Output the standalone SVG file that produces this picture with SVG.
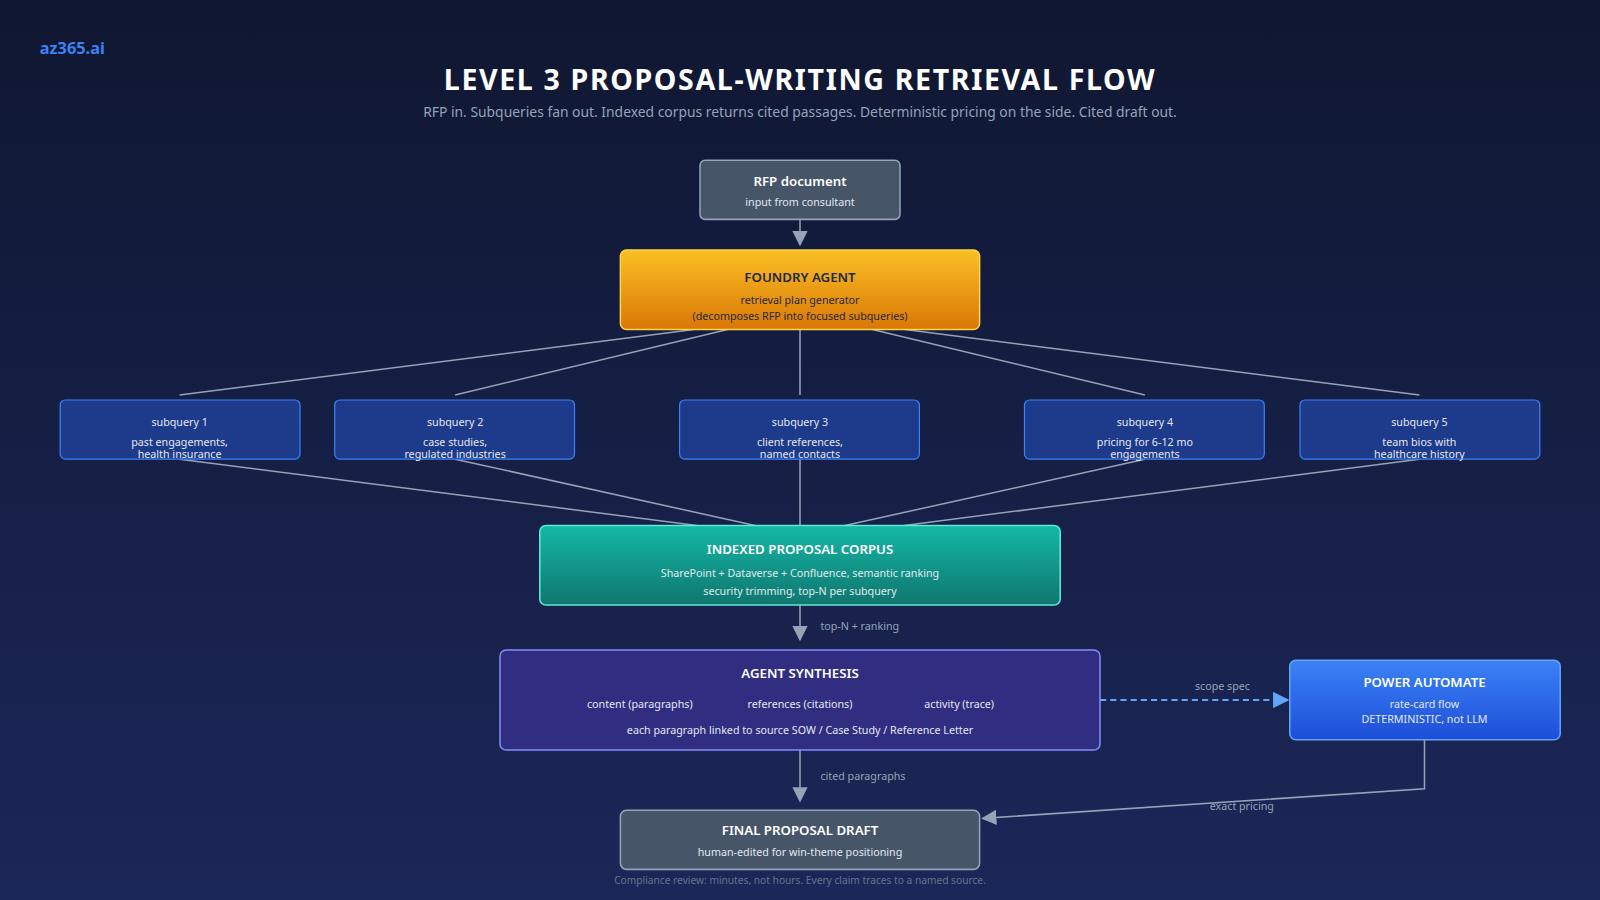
<svg xmlns="http://www.w3.org/2000/svg" width="1600" height="900" viewBox="0 0 1600 900">
<defs>
<linearGradient id="bg" x1="0" y1="0" x2="0" y2="1"><stop offset="0" stop-color="#0f1731"/><stop offset="1" stop-color="#1c2759"/></linearGradient>
<linearGradient id="gold" x1="0" y1="0" x2="0" y2="1"><stop offset="0" stop-color="#fbbf24"/><stop offset="1" stop-color="#d97706"/></linearGradient>
<linearGradient id="teal" x1="0" y1="0" x2="0" y2="1"><stop offset="0" stop-color="#14b8a6"/><stop offset="1" stop-color="#0f766e"/></linearGradient>
<linearGradient id="blue" x1="0" y1="0" x2="0" y2="1"><stop offset="0" stop-color="#3b82f6"/><stop offset="1" stop-color="#1d4ed8"/></linearGradient>
<marker id="ah" viewBox="0 0 10 10" refX="9" refY="5" markerWidth="10" markerHeight="10" orient="auto"><path d="M0,0 L10,5 L0,10 z" fill="#94a3b8"/></marker>
<marker id="ahb" viewBox="0 0 10 10" refX="9" refY="5" markerWidth="8" markerHeight="8" orient="auto"><path d="M0,0 L10,5 L0,10 z" fill="#60a5fa"/></marker>
<style>
text{font-family:"Noto Sans","Open Sans","Liberation Sans",sans-serif;text-anchor:middle;fill:#fff}
.t{font-size:13px;font-weight:600}
.s{font-size:10.5px;fill:#e2e8f0}
.lbl{font-size:10.5px;fill:#94a3b8;text-anchor:start}
.ln{stroke:#94a3b8;stroke-width:1.5;fill:none}
.sq{fill:#1e3a8a;stroke:#3b82f6;stroke-width:1.2}
</style>
</defs>
<rect width="1600" height="900" fill="url(#bg)"/>
<g transform="scale(1.020408)">
<text x="39" y="53" style="text-anchor:start;font-size:16px;font-weight:bold;fill:#3b82f6">az365.ai</text>
<text x="784" y="88" style="font-size:28px;font-weight:bold;letter-spacing:1.6px">LEVEL 3 PROPOSAL-WRITING RETRIEVAL FLOW</text>
<text x="784" y="115" style="font-size:13.6px;fill:#94a3b8">RFP in. Subqueries fan out. Indexed corpus returns cited passages. Deterministic pricing on the side. Cited draft out.</text>

<g id="connectors">
<line class="ln" x1="784" y1="215" x2="784" y2="240" marker-end="url(#ah)"/>
<line class="ln" x1="680" y1="323" x2="176" y2="387"/>
<line class="ln" x1="713" y1="323" x2="446" y2="387"/>
<line class="ln" x1="784" y1="323" x2="784" y2="387"/>
<line class="ln" x1="855" y1="323" x2="1122" y2="387"/>
<line class="ln" x1="887" y1="323" x2="1391" y2="387"/>
<line class="ln" x1="176" y1="450" x2="683" y2="515"/>
<line class="ln" x1="446" y1="450" x2="740" y2="515"/>
<line class="ln" x1="784" y1="450" x2="784" y2="515"/>
<line class="ln" x1="1122" y1="450" x2="828" y2="515"/>
<line class="ln" x1="1391" y1="450" x2="886" y2="515"/>
<line class="ln" x1="784" y1="593" x2="784" y2="627" marker-end="url(#ah)"/>
<text class="lbl" x="804" y="617">top-N + ranking</text>
<line class="ln" x1="784" y1="735" x2="784" y2="785" marker-end="url(#ah)"/>
<text class="lbl" x="804" y="764">cited paragraphs</text>
<line x1="1078" y1="686" x2="1262" y2="686" stroke="#60a5fa" stroke-width="2" stroke-dasharray="6,4" marker-end="url(#ahb)"/>
<text class="lbl" x="1198" y="676" style="text-anchor:middle">scope spec</text>
<polyline class="ln" points="1396,725 1396,773 963,802" marker-end="url(#ah)"/>
<text class="lbl" x="1217" y="794" style="text-anchor:middle">exact pricing</text>
</g>

<g id="rfp"><rect x="686" y="157" width="196" height="58" rx="5" fill="#475569" stroke="#94a3b8" stroke-width="1.5"/>
<text class="t" x="784" y="182">RFP document</text><text class="s" x="784" y="202">input from consultant</text></g>

<g id="foundry"><rect x="608" y="245" width="352" height="78" rx="6" fill="url(#gold)" stroke="#fcd34d" stroke-width="1.5"/>
<text class="t" x="784" y="276" style="fill:#1e293b">FOUNDRY AGENT</text>
<text class="s" x="784" y="298" style="fill:#1e293b">retrieval plan generator</text>
<text class="s" x="784" y="314" style="fill:#1e293b">(decomposes RFP into focused subqueries)</text></g>

<g id="sq1"><rect class="sq" x="59" y="392" width="235" height="58" rx="5"/><text class="s" x="176" y="417">subquery 1</text><text class="s" x="176" y="437">past engagements,</text><text class="s" x="176" y="449">health insurance</text></g>
<g id="sq2"><rect class="sq" x="328" y="392" width="235" height="58" rx="5"/><text class="s" x="446" y="417">subquery 2</text><text class="s" x="446" y="437">case studies,</text><text class="s" x="446" y="449">regulated industries</text></g>
<g id="sq3"><rect class="sq" x="666" y="392" width="235" height="58" rx="5"/><text class="s" x="784" y="417">subquery 3</text><text class="s" x="784" y="437">client references,</text><text class="s" x="784" y="449">named contacts</text></g>
<g id="sq4"><rect class="sq" x="1004" y="392" width="235" height="58" rx="5"/><text class="s" x="1122" y="417">subquery 4</text><text class="s" x="1122" y="437">pricing for 6-12 mo</text><text class="s" x="1122" y="449">engagements</text></g>
<g id="sq5"><rect class="sq" x="1274" y="392" width="235" height="58" rx="5"/><text class="s" x="1391" y="417">subquery 5</text><text class="s" x="1391" y="437">team bios with</text><text class="s" x="1391" y="449">healthcare history</text></g>

<g id="corpus"><rect x="529" y="515" width="510" height="78" rx="6" fill="url(#teal)" stroke="#5eead4" stroke-width="1.5"/>
<text class="t" x="784" y="543">INDEXED PROPOSAL CORPUS</text>
<text class="s" x="784" y="565">SharePoint + Dataverse + Confluence, semantic ranking</text>
<text class="s" x="784" y="583">security trimming, top-N per subquery</text></g>

<g id="synthesis"><rect x="490" y="637" width="588" height="98" rx="6" fill="#312e81" stroke="#818cf8" stroke-width="1.5"/>
<text class="t" x="784" y="664">AGENT SYNTHESIS</text>
<text class="s" x="627" y="694">content (paragraphs)</text>
<text class="s" x="784" y="694">references (citations)</text>
<text class="s" x="940" y="694">activity (trace)</text>
<text class="s" x="784" y="719">each paragraph linked to source SOW / Case Study / Reference Letter</text></g>

<g id="power"><rect x="1264" y="647" width="265" height="78" rx="6" fill="url(#blue)" stroke="#60a5fa" stroke-width="1.5"/>
<text class="t" x="1396" y="673">POWER AUTOMATE</text>
<text class="s" x="1396" y="694">rate-card flow</text>
<text class="s" x="1396" y="709">DETERMINISTIC, not LLM</text></g>

<g id="final"><rect x="608" y="794" width="352" height="58" rx="6" fill="#475569" stroke="#94a3b8" stroke-width="1.5"/>
<text class="t" x="784" y="818">FINAL PROPOSAL DRAFT</text>
<text class="s" x="784" y="839">human-edited for win-theme positioning</text></g>
<text x="784" y="866" style="font-size:10px;fill:#64748b">Compliance review: minutes, not hours. Every claim traces to a named source.</text>
</g>
</svg>
